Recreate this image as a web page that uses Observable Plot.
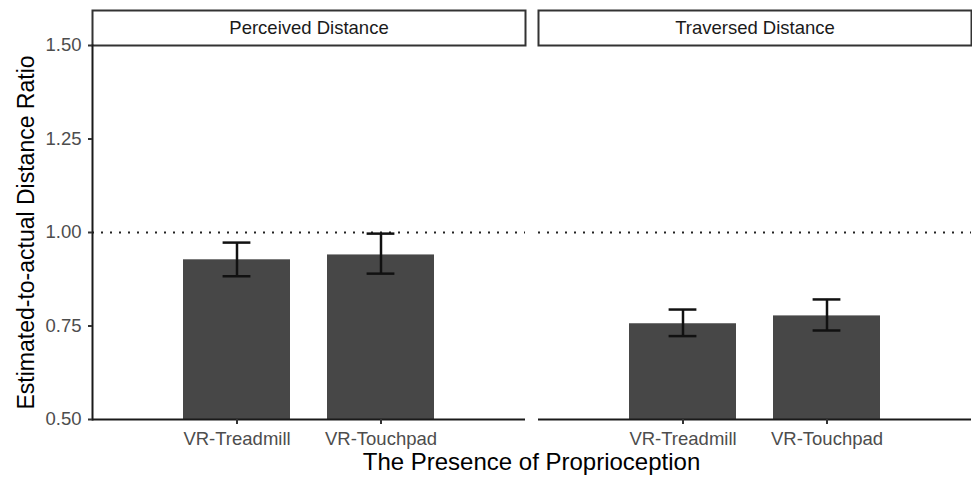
<!DOCTYPE html>
<html>
<head>
<meta charset="utf-8">
<script src="https://cdn.jsdelivr.net/npm/d3@7"></script>
<script src="https://cdn.jsdelivr.net/npm/@observablehq/plot@0.6"></script>
<style>
  html, body { margin: 0; padding: 0; background: #fff; }
  #chart { position: relative; width: 972px; height: 477px; font-family: "Liberation Sans", Arial, Helvetica, sans-serif; }
  #chart svg { display: block; }
  #xtitle { position: absolute; left: 92px; right: 1px; top: 447px; height: 30px; line-height: 30px;
            text-align: center; font-size: 24px; color: #000; white-space: nowrap; }
</style>
</head>
<body>
<div id="chart"><div id="xtitle">The Presence of Proprioception</div></div>
<script>
// Facet panels and conditions
const facets = ["Perceived Distance", "Traversed Distance"];
const conditions = ["VR-Treadmill", "VR-Touchpad"];

// One entry per bar: panel, condition, mean ratio and error bar limits
const barFacet = ["Perceived Distance", "Perceived Distance", "Traversed Distance", "Traversed Distance"];
const barCondition = ["VR-Treadmill", "VR-Touchpad", "VR-Treadmill", "VR-Touchpad"];
const meanRatio = [0.927, 0.940, 0.756, 0.777];
const lowerRatio = [0.883, 0.890, 0.723, 0.738];
const upperRatio = [0.973, 0.997, 0.794, 0.821];

// Y axis ticks and the reference line
const yTicks = [0.50, 0.75, 1.00, 1.25, 1.50];
const referenceRatio = [1.00];

const rows = meanRatio.map((m, i) => ({
  facet: barFacet[i],
  condition: barCondition[i],
  mean: m,
  lower: lowerRatio[i],
  upper: upperRatio[i]
}));

const width = 972, height = 447;
const marginTop = 45, marginBottom = 28, marginLeft = 92, marginRight = 1;
const panelHeight = height - marginTop - marginBottom;

const chart = Plot.plot({
  width, height, marginTop, marginBottom, marginLeft, marginRight,
  style: { fontFamily: "'Liberation Sans', Arial, Helvetica, sans-serif", background: "white", overflow: "visible" },
  fx: { domain: facets, paddingInner: 0.0292, paddingOuter: 0, axis: null },
  x: { domain: conditions, paddingInner: 0.257, paddingOuter: 0.6285, axis: null },
  y: { domain: [0.5, 1.5], axis: null },
  marks: [
    // strip boxes above each panel
    Plot.frame({ insetTop: -35, insetBottom: panelHeight, stroke: "#333", strokeWidth: 2, fill: "white" }),
    Plot.text(facets, { fx: d => d, text: d => d, frameAnchor: "top", dy: -17.5, lineAnchor: "middle",
                        fontSize: 18.5, fill: "#1a1a1a" }),
    // bars
    Plot.barY(rows, { fx: "facet", x: "condition", y: "mean", fill: "#474747", clip: true }),
    // reference line at ratio 1
    Plot.ruleY(referenceRatio, { stroke: "#222", strokeWidth: 2, strokeDasharray: "2,7" }),
    // error bars
    Plot.ruleX(rows, { fx: "facet", x: "condition", y1: "lower", y2: "upper", stroke: "#111", strokeWidth: 2.5 }),
    Plot.tickY(rows, { fx: "facet", x: "condition", y: "upper", insetLeft: 39.6, insetRight: 39.6, stroke: "#111", strokeWidth: 2.5 }),
    Plot.tickY(rows, { fx: "facet", x: "condition", y: "lower", insetLeft: 39.6, insetRight: 39.6, stroke: "#111", strokeWidth: 2.5 }),
    // axis lines
    Plot.ruleY([0.5], { stroke: "#1a1a1a", strokeWidth: 2 }),
    Plot.frame({ anchor: "left", facetAnchor: "left", stroke: "#1a1a1a", strokeWidth: 2 }),
    // axes
    Plot.axisX({ tickSize: 5, tickPadding: 7, fontSize: 18.5, fill: "#4d4d4d", stroke: "#333", strokeWidth: 2, label: null }),
    Plot.axisY({ ticks: yTicks, tickFormat: d3.format(".2f"), tickSize: 4, tickPadding: 7, fontSize: 18.5,
                 fill: "#4d4d4d", stroke: "#333", strokeWidth: 2, label: null }),
    Plot.axisY({ ticks: [], label: "Estimated-to-actual Distance Ratio", labelAnchor: "center", labelArrow: "none",
                 labelOffset: 75, fontSize: 23, fill: "#000" })
  ]
});

document.getElementById("chart").prepend(chart);
</script>
</body>
</html>
